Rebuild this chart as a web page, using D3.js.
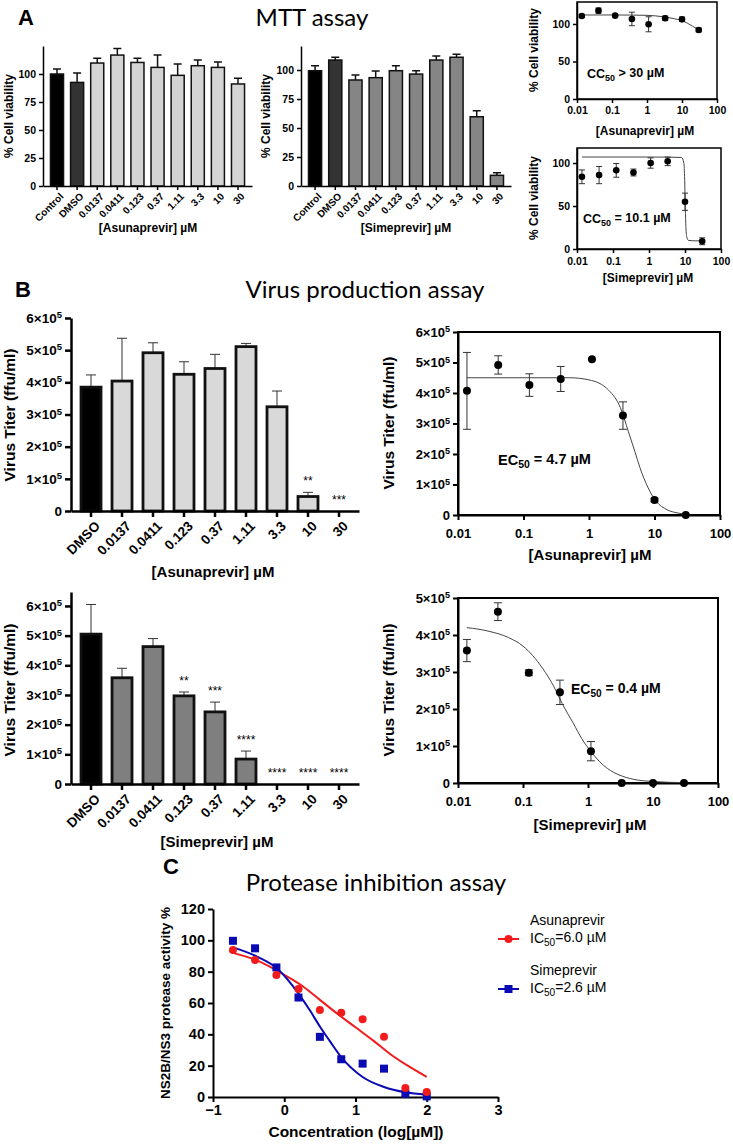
<!DOCTYPE html>
<html>
<head>
<meta charset="utf-8">
<script src="https://cdn.jsdelivr.net/npm/d3@7"></script>
<style>
  body { margin: 0; background: #fff; }
  text { font-family: "Liberation Sans", Arial, sans-serif; fill: #000; }
  .title { font-family: Lato, "Open Sans", sans-serif; }
</style>
</head>
<body>
<svg id="fig" width="733" height="1147"></svg>
<script>
const SVG = d3.select("#fig");

// ---------- data ----------
// A: MTT assay bars (% cell viability)
const MTT_GROUPS = ["Control", "DMSO", "0.0137", "0.0411", "0.123", "0.37", "1.11", "3.3", "10", "30"];
const MTT_ASU = [100, 92.5, 109.8, 116.9, 110.3, 105.9, 98.8, 107.4, 105.9, 91.1];
const MTT_ASU_ERR = [4.4, 8.4, 4.2, 5.9, 3.7, 11.1, 10.1, 5.0, 4.8, 5.0];
const MTT_SIM = [99.4, 108.6, 91.4, 93.4, 99.4, 96.5, 108.6, 111, 59.7, 9.2];
const MTT_SIM_ERR = [4.3, 2.4, 4.3, 5.7, 4.3, 2.9, 3.4, 2.5, 5.1, 2.3];

// A: dose-response (CC50)
const DOSES = [0.0137, 0.0411, 0.123, 0.37, 1.11, 3.3, 10, 30];
const MTT_ASU_PTS = [110.7, 117.8, 111.1, 106.7, 99.6, 107.6, 106.2, 92];
const MTT_ASU_PTS_ERR = [2, 3.5, 1, 9, 10, 3, 3, 2.5];
const MTT_ASU_FIT = [[0.0137, 112], [0.1, 112], [1, 111.5], [3, 109.5], [6, 107], [10, 104.5], [20, 97], [30, 92]];
const MTT_SIM_PTS = [84, 86, 91.5, 89, 100, 102, 55, 9];
const MTT_SIM_PTS_ERR = [8, 10, 8, 4, 6, 5, 10, 4];
const MTT_SIM_FIT = [[0.0137, 107], [1, 107], [8, 106.5], [9.3, 100], [9.8, 80], [10.1, 55], [10.5, 30], [11.2, 14], [12.5, 10], [20, 9.5], [30, 9.5]];

// B: virus production (x10^5 ffu/ml)
const VP_GROUPS = ["DMSO", "0.0137", "0.0411", "0.123", "0.37", "1.11", "3.3", "10", "30"];
const VP_ASU = [3.85, 4.04, 4.92, 4.25, 4.43, 5.11, 3.24, 0.45, 0];
const VP_ASU_ERR = [0.38, 1.33, 0.31, 0.39, 0.44, 0.1, 0.49, 0.13, 0];
const VP_ASU_STARS = ["", "", "", "", "", "", "", "**", "***"];
const VP_SIM = [5.05, 3.58, 4.63, 2.97, 2.43, 0.84, 0, 0, 0];
const VP_SIM_ERR = [1.0, 0.32, 0.27, 0.13, 0.33, 0.27, 0, 0, 0];
const VP_SIM_STARS = ["", "", "", "**", "***", "****", "****", "****", "****"];

const VP_ASU_PTS = [4.07, 4.92, 4.26, 4.46, 5.11, 3.26, 0.49, 0];
const VP_ASU_PTS_ERR = [1.26, 0.3, 0.37, 0.41, 0, 0.45, 0.06, 0];
const VP_ASU_FIT = [[0.0137, 4.5], [0.5, 4.5], [1, 4.43], [2, 4.09], [3, 3.53], [4, 2.73], [5, 2.09], [6, 1.55], [8, 0.89], [10, 0.52], [15, 0.19], [20, 0.09], [30, 0.03]];
const VP_SIM_PTS = [3.58, 4.63, 2.98, 2.45, 0.86, 0, 0, 0];
const VP_SIM_PTS_ERR = [0.3, 0.24, 0.08, 0.33, 0.26, 0, 0, 0];
const VP_SIM_FIT = [[0.0137, 4.2], [0.03, 4.1], [0.06, 3.93], [0.1, 3.7], [0.2, 3.1], [0.3, 2.6], [0.4, 2.15], [0.6, 1.6], [0.8, 1.2], [1.1, 0.86], [1.5, 0.58], [2, 0.39], [3, 0.22], [5, 0.1], [10, 0.04], [30, 0.01]];

// C: protease inhibition
const PI_LOGC = [-0.72, -0.41, -0.11, 0.2, 0.5, 0.8, 1.1, 1.4, 1.7, 2.0];
const PI_ASU = [93.8, 87.4, 77.8, 68.9, 55.5, 53.8, 49.7, 38.4, 5.8, 3.2];
const PI_SIM = [99.7, 94.9, 82.7, 63.5, 38.4, 24.1, 21.3, 18.1, 2.1, 0.4];
const PI_ASU_FIT = [[-0.72, 92], [-0.4, 87.5], [0, 78], [0.25, 71], [0.5, 62], [0.75, 53], [1, 44.5], [1.25, 36], [1.5, 27], [1.75, 19.5], [2, 12.8]];
const PI_SIM_FIT = [[-0.72, 95.5], [-0.4, 90], [-0.1, 82], [0.2, 66], [0.35, 56], [0.5, 45], [0.65, 35], [0.8, 25.5], [1.1, 12.8], [1.4, 6.4], [1.7, 3], [2, 1.5]];

const LOG_TICKS = [0.01, 0.1, 1, 10, 100];
const RED = "#f21b1b";
const BLUE = "#0a0ab4";

// ---------- helpers ----------
function addText(x, y, str, o = {}) {
  const t = SVG.append("text")
    .attr("x", x).attr("y", y)
    .attr("text-anchor", o.anchor || "middle")
    .style("font-size", (o.size || 12) + "px")
    .style("font-weight", o.bold === false ? "normal" : "bold")
    .text(str);
  if (o.rotate) t.attr("transform", `rotate(-90,${x},${y})`);
  if (o.cls) t.attr("class", o.cls);
  return t;
}

function subText(x, y, pre, sub, post, size, bold = true) {
  const t = SVG.append("text").attr("x", x).attr("y", y)
    .style("font-size", size + "px").style("font-weight", bold ? "bold" : "normal");
  t.append("tspan").text(pre);
  t.append("tspan").attr("dy", "0.3em").style("font-size", "0.72em").text(sub);
  t.append("tspan").attr("dy", "-0.3em").text(post);
  return t;
}

function styleAxis(g, width, size) {
  g.select(".domain").attr("stroke-width", width);
  g.selectAll(".tick line").attr("stroke-width", width);
  g.selectAll(".tick text").style("font-size", size + "px").style("font-weight", "bold")
    .style("font-family", '"Liberation Sans", Arial, sans-serif').attr("fill", "#000");
}

function sciTicks(g) {
  g.selectAll(".tick text").each(function (d) {
    const t = d3.select(this).text(null);
    if (d === 0) { t.text("0"); return; }
    t.append("tspan").text(d + "×10");
    t.append("tspan").attr("dy", "-0.5em").style("font-size", "0.7em").text("5");
  });
}

function barChart(o) {
  const x = d3.scaleBand().domain(o.groups).range(o.xRange)
    .paddingInner(o.padIn).paddingOuter(o.padOut);
  const y = d3.scaleLinear().domain(o.yDomain).range(o.yRange);
  const g = SVG.append("g");
  const rows = o.groups.map((k, i) => ({ k, i, v: o.values[i], e: o.errs[i], s: o.stars ? o.stars[i] : "" }));
  const cx = (d) => x(d.k) + x.bandwidth() / 2;

  g.selectAll(".err").data(rows.filter((d) => d.e > 0)).join("path")
    .attr("d", (d) => `M${cx(d)},${y(d.v)}V${y(d.v + d.e)}M${cx(d) - o.cap},${y(d.v + d.e)}H${cx(d) + o.cap}`)
    .attr("fill", "none").attr("stroke", o.errColor).attr("stroke-width", o.errWidth);

  g.selectAll(".bar").data(rows.filter((d) => d.v > 0)).join("rect")
    .attr("x", (d) => x(d.k)).attr("y", (d) => y(d.v))
    .attr("width", x.bandwidth()).attr("height", (d) => y(0) - y(d.v))
    .attr("fill", (d) => o.fill(d.i)).attr("stroke", "#111").attr("stroke-width", o.barStroke);

  g.selectAll(".star").data(rows.filter((d) => d.s)).join("text")
    .attr("x", cx).attr("y", (d) => y(d.v + d.e) - 7)
    .attr("text-anchor", "middle").style("font-size", "12px").text((d) => d.s);

  const gy = g.append("g").attr("transform", `translate(${o.xRange[0]},0)`)
    .call(d3.axisLeft(y).tickValues(o.yTicks).tickSize(o.tick).tickSizeOuter(0));
  styleAxis(gy, o.axisWidth, o.yFont);
  if (o.sci) sciTicks(gy);

  const gx = g.append("g").attr("transform", `translate(0,${o.yRange[0]})`)
    .call(d3.axisBottom(x).tickSize(o.tick).tickSizeOuter(0));
  styleAxis(gx, o.axisWidth, o.xFont);
  gx.selectAll(".tick text").attr("x", 0).attr("y", 0).attr("dy", "0.72em")
    .attr("transform", `translate(${o.lblDx},${o.tick + o.lblDy}) rotate(-45)`)
    .style("text-anchor", "end");
}

function doseChart(o) {
  const x = d3.scaleLog().domain([0.01, 100]).range(o.xRange);
  const y = d3.scaleLinear().domain(o.yDomain).range(o.yRange);
  const g = SVG.append("g");

  g.append("rect").attr("x", o.xRange[0]).attr("y", o.yRange[1])
    .attr("width", o.xRange[1] - o.xRange[0]).attr("height", o.yRange[0] - o.yRange[1])
    .attr("fill", "none").attr("stroke", "#000").attr("stroke-width", o.sw);

  const gx = g.append("g").attr("transform", `translate(0,${o.yRange[0]})`)
    .call(d3.axisBottom(x).tickValues(LOG_TICKS).tickFormat((d) => String(d)).tickSize(o.tick).tickSizeOuter(0));
  styleAxis(gx, o.sw, o.font);
  gx.selectAll(".tick text").attr("y", o.xLblY).attr("dy", 0);

  const gy = g.append("g").attr("transform", `translate(${o.xRange[0]},0)`)
    .call(d3.axisLeft(y).tickValues(o.yTicks).tickSize(o.tick).tickSizeOuter(0));
  styleAxis(gy, o.sw, o.font);
  if (o.sci) sciTicks(gy);

  g.append("path").datum(o.fit)
    .attr("fill", "none").attr("stroke", "#444").attr("stroke-width", 1)
    .attr("d", d3.line().x((d) => x(d[0])).y((d) => y(d[1])).curve(d3.curveMonotoneX));

  const rows = o.doses.map((c, i) => ({ c, v: o.values[i], e: o.errs[i] }));
  g.selectAll(".eb").data(rows.filter((d) => d.e > 0)).join("path")
    .attr("d", (d) => {
      const px = x(d.c), a = y(d.v - d.e), b = y(d.v + d.e);
      return `M${px},${a}V${b}M${px - o.cap},${a}H${px + o.cap}M${px - o.cap},${b}H${px + o.cap}`;
    })
    .attr("fill", "none").attr("stroke", "#333").attr("stroke-width", 1);
  g.selectAll("circle").data(rows).join("circle")
    .attr("cx", (d) => x(d.c)).attr("cy", (d) => y(d.v)).attr("r", o.r).attr("fill", "#000");
}

// ---------- panel A ----------
addText(18, 25, "A", { anchor: "start", size: 22 });
addText(312, 26, "MTT assay", { cls: "title", size: 24, bold: false });

const aFill = (light) => (i) => (i === 0 ? "#000" : i === 1 ? "#333" : light);
const aBase = {
  groups: MTT_GROUPS, padIn: 0.35, padOut: 0.371, yRange: [186, 46], yTicks: [0, 25, 50, 75, 100],
  tick: 4, axisWidth: 1.5, yFont: 10.5, xFont: 10, lblDx: 2, lblDy: 2,
  barStroke: 1.5, cap: 4, errColor: "#111", errWidth: 1.5,
};
barChart({ ...aBase, xRange: [43, 252], yDomain: [0, 125], values: MTT_ASU, errs: MTT_ASU_ERR, fill: aFill("#d4d4d4") });
barChart({ ...aBase, xRange: [301, 511], yDomain: [0, 120.7], values: MTT_SIM, errs: MTT_SIM_ERR, fill: aFill("#858585") });
addText(12.5, 116, "% Cell viability", { rotate: true, size: 12 });
addText(270, 116, "% Cell viability", { rotate: true, size: 12 });
addText(148, 232, "[Asunaprevir] µM", { size: 12 });
addText(406, 232, "[Simeprevir] µM", { size: 12 });

doseChart({
  xRange: [577, 717], yRange: [99, 2], yDomain: [0, 129.3], yTicks: [0, 50, 100],
  doses: DOSES, values: MTT_ASU_PTS, errs: MTT_ASU_PTS_ERR, fit: MTT_ASU_FIT,
  sw: 1.5, tick: 4, font: 10.5, xLblY: 15, r: 3.3, cap: 3,
});
addText(538, 50, "% Cell viability", { rotate: true, size: 12 });
subText(587, 78, "CC", "50", " > 30 µM", 12.5);
addText(645, 135, "[Asunaprevir] µM", { size: 12 });

doseChart({
  xRange: [577, 721], yRange: [249, 148], yDomain: [0, 117.5], yTicks: [0, 50, 100],
  doses: DOSES, values: MTT_SIM_PTS, errs: MTT_SIM_PTS_ERR, fit: MTT_SIM_FIT,
  sw: 1.5, tick: 4, font: 10.5, xLblY: 16, r: 3.3, cap: 3,
});
addText(538, 198, "% Cell viability", { rotate: true, size: 12 });
subText(583, 223, "CC", "50", " = 10.1 µM", 12.5);
addText(648, 282, "[Simeprevir] µM", { size: 12 });

// ---------- panel B ----------
addText(15, 297, "B", { anchor: "start", size: 22 });
addText(365, 298, "Virus production assay", { cls: "title", size: 24, bold: false });

const bFill = (col) => (i) => (i === 0 ? "#000" : col);
const bBase = {
  groups: VP_GROUPS, xRange: [71, 359], padIn: 0.355, padOut: 0.323, yTicks: [0, 1, 2, 3, 4, 5, 6],
  tick: 6, axisWidth: 2.5, yFont: 13.5, xFont: 13.5, lblDx: 3, lblDy: 3, sci: true,
  barStroke: 2.8, cap: 5, errColor: "#333", errWidth: 1,
};
barChart({ ...bBase, yRange: [511, 318], yDomain: [0, 6], values: VP_ASU, errs: VP_ASU_ERR, stars: VP_ASU_STARS, fill: bFill("#d9d9d9") });
barChart({ ...bBase, yRange: [784, 592], yDomain: [0, 6.47], values: VP_SIM, errs: VP_SIM_ERR, stars: VP_SIM_STARS, fill: bFill("#7f7f7f") });
addText(15, 415, "Virus Titer (ffu/ml)", { rotate: true, size: 15.5 });
addText(15, 690, "Virus Titer (ffu/ml)", { rotate: true, size: 15.5 });
addText(213, 577, "[Asunaprevir] µM", { size: 15 });
addText(217, 847, "[Simeprevir] µM", { size: 15 });

doseChart({
  xRange: [458, 720], yRange: [515, 332], yDomain: [0, 6], yTicks: [0, 1, 2, 3, 4, 5, 6], sci: true,
  doses: DOSES, values: VP_ASU_PTS, errs: VP_ASU_PTS_ERR, fit: VP_ASU_FIT,
  sw: 2, tick: 5, font: 13, xLblY: 23, r: 4, cap: 4,
});
addText(394, 423, "Virus Titer (ffu/ml)", { rotate: true, size: 15.5 });
subText(498, 465, "EC", "50", " = 4.7 µM", 14.5);
addText(590, 560, "[Asunaprevir] µM", { size: 15 });

doseChart({
  xRange: [458, 718], yRange: [783, 598], yDomain: [0, 5], yTicks: [0, 1, 2, 3, 4, 5], sci: true,
  doses: DOSES, values: VP_SIM_PTS, errs: VP_SIM_PTS_ERR, fit: VP_SIM_FIT,
  sw: 2, tick: 5, font: 13, xLblY: 23, r: 4, cap: 4,
});
addText(394, 690, "Virus Titer (ffu/ml)", { rotate: true, size: 15.5 });
subText(571, 694, "EC", "50", " = 0.4 µM", 14);
addText(590, 830, "[Simeprevir] µM", { size: 15 });

// ---------- panel C ----------
addText(163, 874, "C", { anchor: "start", size: 22 });
addText(376, 891, "Protease inhibition assay", { cls: "title", size: 24, bold: false });

const xC = d3.scaleLinear().domain([-1, 3]).range([213, 498]);
const yC = d3.scaleLinear().domain([0, 120]).range([1097, 909]);
const gC = SVG.append("g");
const gCx = gC.append("g").attr("transform", `translate(0,${yC(0)})`)
  .call(d3.axisBottom(xC).tickValues([-1, 0, 1, 2, 3]).tickFormat(d3.format("d")).tickSize(5).tickSizeOuter(0));
styleAxis(gCx, 2, 14.5);
const gCy = gC.append("g").attr("transform", `translate(${xC(-1)},0)`)
  .call(d3.axisLeft(yC).tickValues([0, 20, 40, 60, 80, 100, 120]).tickFormat(d3.format("d")).tickSize(5).tickSizeOuter(0));
styleAxis(gCy, 2, 14.5);

const lineC = d3.line().x((d) => xC(d[0])).y((d) => yC(d[1])).curve(d3.curveMonotoneX);
gC.append("path").datum(PI_ASU_FIT).attr("d", lineC).attr("fill", "none").attr("stroke", RED).attr("stroke-width", 2);
gC.append("path").datum(PI_SIM_FIT).attr("d", lineC).attr("fill", "none").attr("stroke", BLUE).attr("stroke-width", 2);
gC.selectAll(".sq").data(PI_LOGC).join("rect")
  .attr("x", (d) => xC(d) - 4).attr("y", (d, i) => yC(PI_SIM[i]) - 4)
  .attr("width", 8).attr("height", 8).attr("fill", BLUE);
gC.selectAll(".dot").data(PI_LOGC).join("circle")
  .attr("cx", (d) => xC(d)).attr("cy", (d, i) => yC(PI_ASU[i])).attr("r", 4).attr("fill", RED);

addText(170, 1003, "NS2B/NS3 protease activity %", { rotate: true, size: 13.5 });
addText(356, 1137, "Concentration (log[µM])", { size: 15.5 });

// legend
const LEGEND = [
  { name: "Asunaprevir", ic: "=6.0 µM", color: RED, shape: "circle", y: 939 },
  { name: "Simeprevir", ic: "=2.6 µM", color: BLUE, shape: "square", y: 989 },
];
LEGEND.forEach((d) => {
  SVG.append("line").attr("x1", 498).attr("x2", 519).attr("y1", d.y).attr("y2", d.y)
    .attr("stroke", d.color).attr("stroke-width", 2);
  if (d.shape === "circle") SVG.append("circle").attr("cx", 508.5).attr("cy", d.y).attr("r", 4).attr("fill", d.color);
  else SVG.append("rect").attr("x", 504.5).attr("y", d.y - 4).attr("width", 8).attr("height", 8).attr("fill", d.color);
  addText(530, d.y - 14, d.name, { anchor: "start", size: 14, bold: false });
  subText(530, d.y + 4, "IC", "50", d.ic, 14, false);
});
</script>
</body>
</html>
